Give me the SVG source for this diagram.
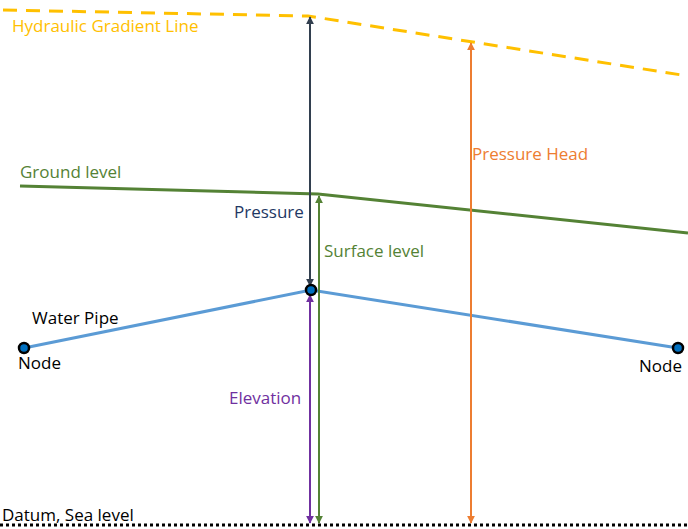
<svg xmlns="http://www.w3.org/2000/svg" width="688" height="529" viewBox="0 0 688 529">
<style>
text{font-family:"Open Sans","Liberation Sans",sans-serif;font-size:17px}
.a{stroke-width:2;fill:none}
</style>
<defs>
<marker id="m1" viewBox="0 0 10 10" refX="9" refY="5" markerWidth="4" markerHeight="4" orient="auto-start-reverse"><path d="M0,0L10,5L0,10z" fill="#323f4f"/></marker>
<marker id="m2" viewBox="0 0 10 10" refX="9" refY="5" markerWidth="4" markerHeight="4" orient="auto-start-reverse"><path d="M0,0L10,5L0,10z" fill="#7030a0"/></marker>
<marker id="m3" viewBox="0 0 10 10" refX="9" refY="5" markerWidth="4" markerHeight="4" orient="auto-start-reverse"><path d="M0,0L10,5L0,10z" fill="#548235"/></marker>
<marker id="m4" viewBox="0 0 10 10" refX="9" refY="5" markerWidth="4" markerHeight="4" orient="auto-start-reverse"><path d="M0,0L10,5L0,10z" fill="#ed7d31"/></marker>
</defs>
<g id="lines">
<path d="M3,10L308,16L688,76" stroke="#ffc000" stroke-width="3" stroke-dasharray="14,9" fill="none"/>
<path d="M20,186L318,194L688,233" stroke="#548235" stroke-width="3" fill="none"/>
<path d="M24,348L311,290L678,348" stroke="#5b9bd5" stroke-width="3" fill="none"/>
<line x1="0" y1="525" x2="688" y2="525" stroke="#000" stroke-width="3" stroke-dasharray="3,3"/>
</g>
<g id="connectors">
<line class="a" x1="310" y1="17" x2="310" y2="286" stroke="#323f4f" marker-start="url(#m1)" marker-end="url(#m1)"/>
<line class="a" x1="310" y1="295" x2="310" y2="523" stroke="#7030a0" marker-start="url(#m2)" marker-end="url(#m2)"/>
<line class="a" x1="319" y1="196" x2="319" y2="523" stroke="#548235" marker-start="url(#m3)" marker-end="url(#m3)"/>
<line class="a" x1="471" y1="43" x2="471" y2="523" stroke="#ed7d31" marker-start="url(#m4)" marker-end="url(#m4)"/>
</g>
<g id="node-left"><circle cx="24" cy="348" r="5" fill="#0070c0" stroke="#000" stroke-width="2.5"/><text x="18" y="369">Node</text></g>
<g id="node-top"><circle cx="311" cy="290" r="5" fill="#0070c0" stroke="#000" stroke-width="2.5"/></g>
<g id="node-right"><circle cx="678" cy="348" r="5" fill="#0070c0" stroke="#000" stroke-width="2.5"/><text x="639" y="372">Node</text></g>
<g id="labels">
<text x="12" y="32" fill="#ffc000">Hydraulic Gradient Line</text>
<text x="20" y="178" fill="#548235">Ground level</text>
<text x="234" y="218" fill="#1f3864">Pressure</text>
<text x="324" y="257" fill="#548235">Surface level</text>
<text x="32" y="324" fill="#000">Water Pipe</text>
<text x="229" y="404" fill="#7030a0">Elevation</text>
<text x="472" y="160" fill="#ed7d31">Pressure Head</text>
<text x="2" y="521" fill="#000">Datum, Sea level</text>
</g>
</svg>
